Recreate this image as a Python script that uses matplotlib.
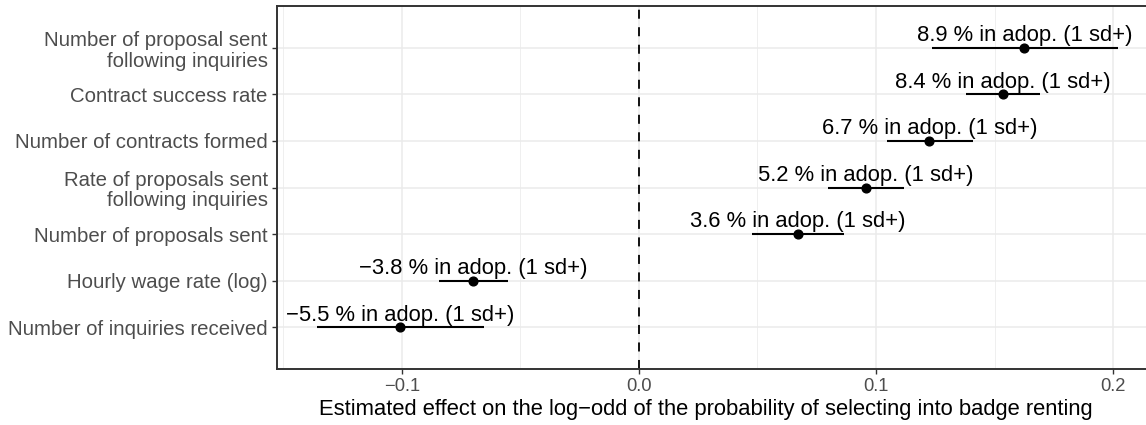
import matplotlib
matplotlib.use("Agg")
import matplotlib.pyplot as plt
import numpy as np

plt.rcParams['font.family'] = ['Liberation Sans', 'DejaVu Sans']

# Data (top to bottom order as displayed)
categories = [
    "Number of proposal sent\nfollowing inquiries",
    "Contract success rate",
    "Number of contracts formed",
    "Rate of proposals sent\nfollowing inquiries",
    "Number of proposals sent",
    "Hourly wage rate (log)",
    "Number of inquiries received",
]
estimates = [0.1626, 0.1535, 0.1225, 0.0957, 0.0670, -0.0699, -0.1007]
ci_low = [0.1235, 0.1380, 0.1045, 0.0799, 0.0477, -0.0844, -0.1359]
ci_high = [0.2020, 0.1692, 0.1410, 0.1118, 0.0864, -0.0553, -0.0653]
labels = [
    "8.9 % in adop. (1 sd+)",
    "8.4 % in adop. (1 sd+)",
    "6.7 % in adop. (1 sd+)",
    "5.2 % in adop. (1 sd+)",
    "3.6 % in adop. (1 sd+)",
    "\u22123.8 % in adop. (1 sd+)",
    "\u22125.5 % in adop. (1 sd+)",
]
xticks = [-0.1, 0.0, 0.1, 0.2]
xticklabels = ["\u22120.1", "0.0", "0.1", "0.2"]
minor_xticks = [-0.15, -0.05, 0.05, 0.15]
xlabel = "Estimated effect on the log\u2212odd of the probability of selecting into badge renting"

W, H = 1146, 425
fig = plt.figure(figsize=(W / 100, H / 100), dpi=100)
left, right, top, bottom = 277, 1150, 5.5, 369
ax = fig.add_axes([left / W, (H - bottom) / H, (right - left) / W, (bottom - top) / H])

n = len(categories)
ypos = np.arange(n, 0, -1)

ax.set_xlim(-0.1527, 0.2156)
ax.set_ylim(0.105, 7.906)

# grid
for xm in minor_xticks:
    ax.axvline(xm, color='#EBEBEB', lw=0.55, zorder=0)
for xM in xticks:
    ax.axvline(xM, color='#EBEBEB', lw=1.1, zorder=0)
for y in ypos:
    ax.axhline(y, color='#EBEBEB', lw=1.1, zorder=0)

ax.axvline(0, color='black', lw=1.3, linestyle=(0, (5.0, 4.7)), zorder=1)

ax.hlines(ypos, ci_low, ci_high, color='black', lw=1.5, zorder=2)
ax.plot(estimates, ypos, 'o', color='black', ms=6.3, zorder=3)

for x, y, t in zip(estimates, ypos, labels):
    ax.annotate(t, (x, y), xytext=(0, 4.8), textcoords='offset points',
                ha='center', va='baseline', fontsize=15.8, color='black', zorder=4)

ax.set_yticks(ypos)
ax.set_yticklabels(categories, fontsize=14.7, color='#4D4D4D', linespacing=1.13)
ax.set_xticks(xticks)
ax.set_xticklabels(xticklabels, fontsize=13.2, color='#4D4D4D')
ax.tick_params(axis='both', length=3.6, width=1.0, color='#333333', pad=3)

for s in ['left', 'top', 'bottom', 'right']:
    ax.spines[s].set_color('#333333')
    ax.spines[s].set_linewidth(1.4)

fig.text(706 / W, 1 - 410 / H, xlabel, ha='center', va='center', fontsize=15.8, color='black')

fig.savefig("out.png", dpi=100)
